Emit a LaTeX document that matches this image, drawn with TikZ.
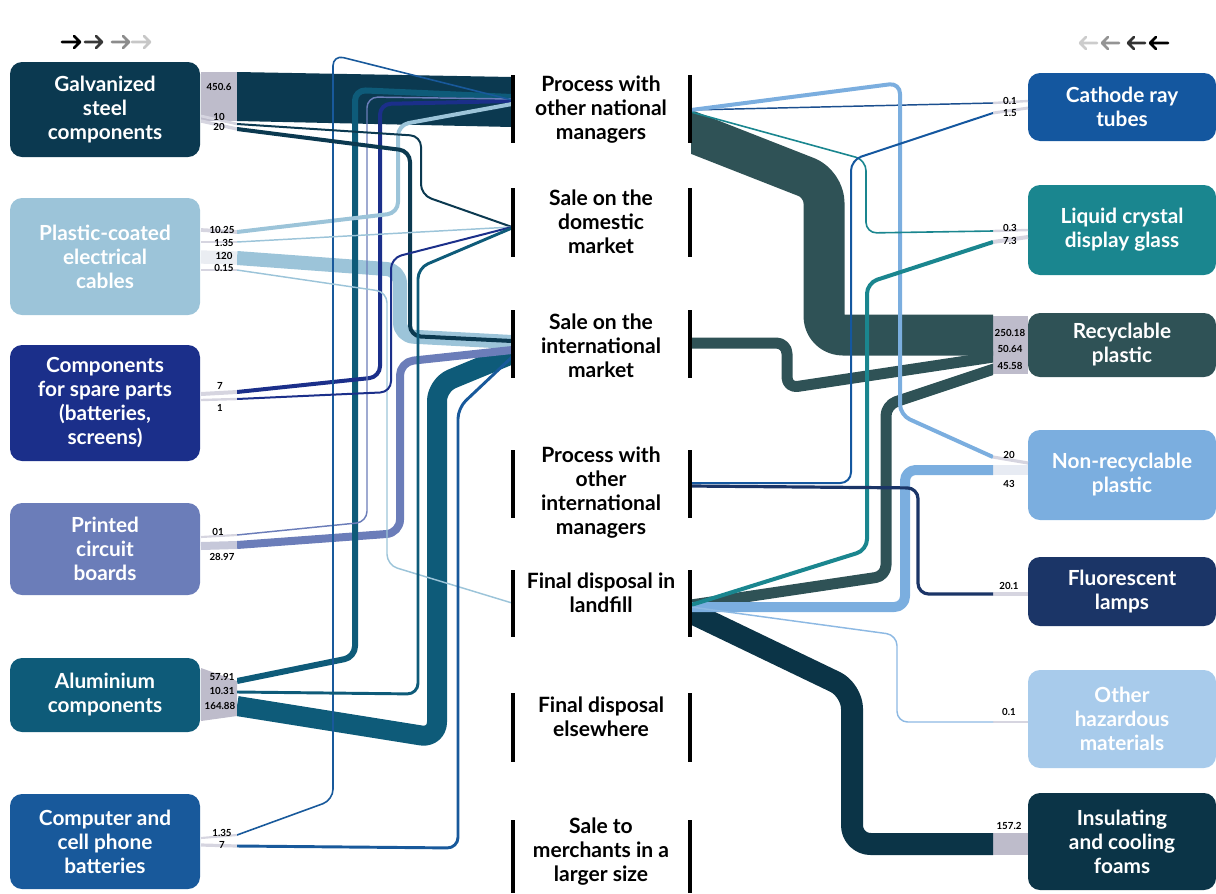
\documentclass[tikz,border=0pt]{standalone}
\usepackage{fontspec}
\setmainfont{Lato}
\usetikzlibrary{calc}

\definecolor{cGal}{HTML}{0B3950}
\definecolor{cCab}{HTML}{9CC4D9}
\definecolor{cSpa}{HTML}{1B2F8A}
\definecolor{cPcb}{HTML}{6B7DB9}
\definecolor{cAlu}{HTML}{0E5B79}
\definecolor{cBat}{HTML}{18599B}
\definecolor{cCrt}{HTML}{14579F}
\definecolor{cLcd}{HTML}{1A868F}
\definecolor{cRec}{HTML}{2F5256}
\definecolor{cNre}{HTML}{7BAEDF}
\definecolor{cFlu}{HTML}{1B3567}
\definecolor{cHaz}{HTML}{A8CBEB}
\definecolor{cHazLine}{HTML}{8DB9E3}
\definecolor{cIns}{HTML}{0B3447}
\definecolor{cCrtLine}{HTML}{1B4F8F}
\definecolor{gband}{HTML}{BEBCCB}
\definecolor{gthin}{HTML}{D6D5E0}

\begin{document}
\begin{tikzpicture}[x=0.75pt,y=-0.75pt,
  box/.style={rounded corners=9pt, text=white, font=\bfseries\fontsize{15.6}{18}\selectfont,
    align=center, minimum width=142.5pt, inner sep=0pt},
  rbox/.style={box, minimum width=141pt},
  mid/.style={font=\bfseries\fontsize{15.8}{18}\selectfont, align=center, inner sep=0pt, text=black},
  num/.style={font=\bfseries\fontsize{7.3}{8}\selectfont, inner sep=0pt, text=black},
  bar/.style={line width=2.3pt, black},
  flow/.style={rounded corners=8pt, line cap=butt, line join=round},
  thinband/.style={gthin, line cap=butt},
  dirarrow/.style={line width=1.9pt, line cap=round, line join=round}
]
\useasboundingbox (0,0) rectangle (1216,893);

% ---------- reading-direction arrows ----------
\foreach \xa/\xb/\shade in {62/80/100, 85/102/78, 112/129/45, 132/150/22}{
  \draw[dirarrow, black!\shade] (\xa,42) -- (\xb,42) (\xb-6,36) -- (\xb,42) -- (\xb-6,48);
}
\foreach \xa/\xb/\shade in {1080/1097/20, 1102/1119/42, 1128/1145/80, 1150/1168/100}{
  \draw[dirarrow, black!\shade] (\xb,43) -- (\xa,43) (\xa+6,37) -- (\xa,43) -- (\xa+6,49);
}

% ---------- source boxes ----------
\node[box, fill=cGal, minimum height=71.25pt] (gal) at (105,109.5) {Galvanized\\steel\\components};
\node[box, fill=cCab, minimum height=87.75pt] (cab) at (105,256.5) {Plastic-coated\\electrical\\cables};
\node[box, fill=cSpa, minimum height=87pt]    (spa) at (105,403) {Components\\for spare parts\\(batteries,\\screens)};
\node[box, fill=cPcb, minimum height=69pt]    (pcb) at (105,549) {Printed\\circuit\\boards};
\node[box, fill=cAlu, minimum height=55.5pt]  (alu) at (105,695) {Aluminium\\components};
\node[box, fill=cBat, minimum height=71.25pt] (bat) at (105,841.5) {Computer and\\cell phone\\batteries};

% ---------- target boxes ----------
\node[rbox, fill=cCrt, minimum height=51pt]    (crt) at (1122,107) {Cathode ray\\tubes};
\node[rbox, fill=cLcd, minimum height=67.5pt]  (lcd) at (1122,230) {Liquid crystal\\display glass};
\node[rbox, fill=cRec, minimum height=48pt]    (rec) at (1122,345) {Recyclable\\plastic};
\node[rbox, fill=cNre, minimum height=67.5pt]  (nre) at (1122,475) {Non-recyclable\\plastic};
\node[rbox, fill=cFlu, minimum height=51.75pt] (flu) at (1122,591.5) {Fluorescent\\lamps};
\node[rbox, fill=cHaz, minimum height=73.5pt]  (haz) at (1122,719) {Other\\hazardous\\materials};
\node[rbox, fill=cIns, minimum height=72.75pt] (ins) at (1122,841.5) {Insulating\\and cooling\\foams};

% ---------- intermediate destinations ----------
\node[mid] (pn) at (601,110) {Process with\\other national\\managers};
\node[mid] (sd) at (601,222) {Sale on the\\domestic\\market};
\node[mid] (si) at (601,346) {Sale on the\\international\\market};
\node[mid] (pi) at (601,493) {Process with\\other\\international\\managers};
\node[mid] (lf) at (601,593) {Final disposal in\\landfill};
\node[mid] (fe) at (601,717) {Final disposal\\elsewhere};
\node[mid] (sm) at (601,852) {Sale to\\merchants in a\\larger size};

% ---------- ports ----------
% outgoing ends on the left
\coordinate (gal-t) at (237,72);  \coordinate (gal-u) at (237,121);
\coordinate (gal-b) at (237,124); \coordinate (gal-c) at (237,129);
\coordinate (cab-a) at (237,232); \coordinate (cab-b) at (237,242);
\coordinate (cab-c) at (237,258); \coordinate (cab-d) at (237,270);
\coordinate (spa-a) at (237,392); \coordinate (spa-b) at (237,399);
\coordinate (pcb-a) at (237,535); \coordinate (pcb-b) at (237,545);
\coordinate (alu-a) at (237,681); \coordinate (alu-b) at (237,692); \coordinate (alu-c) at (237,706);
\coordinate (bat-a) at (237,835); \coordinate (bat-b) at (237,846);
% incoming ends of the intermediate destinations
\coordinate (pn-t) at (512,77);   \coordinate (pn-u) at (512,127);
\coordinate (pn-i) at (512,100);
\coordinate (sd-i) at (512,227);
\coordinate (si-i) at (512,345);
\coordinate (lf-i) at (512,603);
% outgoing ends of the intermediate destinations
\coordinate (pn-o) at (691,110);
\coordinate (pn-w) at (671,124);
\coordinate (si-o) at (691,343);
\coordinate (pi-o) at (691,485);
\coordinate (lf-o) at (691,605);
\coordinate (lf-w) at (671,603);
% incoming ends on the right
\coordinate (crt-a) at (993,103); \coordinate (crt-b) at (993,113);
\coordinate (lcd-a) at (993,231); \coordinate (lcd-b) at (993,242);
\coordinate (rec-a) at (993,335); \coordinate (rec-b) at (1000,356); \coordinate (rec-c) at (1000,367);
\coordinate (nre-a) at (993,457); \coordinate (nre-b) at (993,470);
\coordinate (flu-a) at (993,594);
\coordinate (haz-a) at (993,722);
\coordinate (ins-a) at (993,844);

% ---------- grey value bands ----------
\fill[gband] (201,72) rectangle (gal-u);
\draw[thinband, line width=2pt] (201,116) -- (gal-b);
\draw[thinband, line width=2.5pt] (201,121) -- (gal-c);
\draw[thinband, line width=2.8pt] (201,230) -- (cab-a);
\draw[thinband, line width=1.6pt] (201,242) -- (cab-b);
\draw[thinband, line width=10pt, gthin!80!cCab!40] (201,257) -- (cab-c);
\draw[thinband, line width=1.6pt] (201,270) -- (cab-d);
\draw[thinband, line width=3pt] (201,394) -- (spa-a);
\draw[thinband, line width=1.8pt] (201,400) -- (spa-b);
\draw[thinband, line width=1.6pt] (201,537) -- (pcb-a);
\draw[thinband, line width=6pt, gthin!85!cPcb] (201,546) -- (pcb-b);
\fill[gband] (201,668) -- (alu-a) -- (237,716) -- (201,721) -- cycle;
\draw[thinband, line width=1.6pt] (201,838) -- (bat-a);
\draw[thinband, line width=2.4pt] (201,845) -- (bat-b);

\draw[thinband, line width=1.8pt] (crt-a) -- (1028,101);
\draw[thinband, line width=2.2pt] (crt-b) -- (1028,108);
\draw[thinband, line width=1.8pt] (lcd-a) -- (1028,230);
\draw[thinband, line width=3pt]   (lcd-b) -- (1028,237);
\fill[gband] (993,316) rectangle (1028,374);
\draw[thinband, line width=2.4pt] (nre-a) -- (1028,463);
\draw[thinband, line width=7.5pt, gthin!80!cNre!40] (nre-b) -- (1028,470);
\draw[thinband, line width=2.4pt] (flu-a) -- (1028,594);
\draw[thinband, line width=1.4pt] (haz-a) -- (1028,722);
\fill[gband] (993,833) rectangle (1028,855);

% ---------- flows into the intermediate destinations ----------
\begin{scope}
\clip (237,0) rectangle (512,893);
\fill[cGal] (gal-t) -- (pn-t) -- (pn-u) -- (gal-u) -- cycle;
\draw[flow, rounded corners=12pt, cAlu, line width=15pt] (alu-c) -- (437,738) -- (437,385) -- ($(si-i)+(0,9)$);
\draw[flow, rounded corners=10pt, cCab, line width=10.5pt] (cab-c) -- (400,270) -- (400,336) -- ($(si-i)+(0,-3)$);
\draw[flow, rounded corners=10pt, cPcb, line width=6pt] (pcb-b) -- (400,533) -- (400,362) -- ($(si-i)+(0,5)$);
\draw[flow, cAlu, line width=4.5pt] (alu-a) -- (355,657) -- (355,90) -- ($(pn-i)+(0,-3)$);
\draw[flow, cSpa, line width=3pt] (spa-a) -- (380,377) -- (380,104) -- ($(pn-i)+(0,1)$);
\draw[flow, cPcb, line width=1.1pt] (pcb-a) -- (367,522) -- (367,97) -- ($(pn-i)+(0,-1)$);
\draw[flow, cCab, line width=3pt] (cab-a) -- (398,213) -- (398,125) -- ($(pn-i)+(0,4)$);
\draw[flow, cBat, line width=1.2pt] (bat-a) -- (333,800) -- (333,55) -- (pn-i);
\draw[flow, cGal, line width=1.5pt] (gal-b) -- (421,136) -- (421,195) -- (sd-i);
\draw[flow, cGal, line width=3pt] (gal-c) -- (410,151) -- (410,336) -- ($(si-i)+(0,-4)$);
\draw[flow, cCab, line width=1.1pt] (cab-b) -- (sd-i);
\draw[flow, cCab, line width=1.1pt] (cab-d) -- (387,292) -- (387,565) -- (lf-i);
\draw[flow, cSpa, line width=1.5pt] (spa-b) -- (391,392) -- (391,258) -- (sd-i);
\draw[flow, cAlu, line width=2.2pt] (alu-b) -- (418,694) -- (418,268) -- ($(sd-i)+(0,1)$);
\draw[flow, cBat, line width=2.2pt] (bat-b) -- (458,848) -- (458,408) -- ($(si-i)+(0,12)$);
\end{scope}

% ---------- flows into the material boxes ----------
\begin{scope}
\clip (691,0) rectangle (993,893);
\draw[flow, rounded corners=14pt, cRec, line width=30.75pt] (pn-w) -- (824,184) -- (824,335) -- (rec-a);
\draw[flow, rounded corners=14pt, cIns, line width=16.5pt] (lf-w) -- (852,690) -- (852,844) -- (ins-a);
\draw[flow, cRec, line width=8.25pt] (si-o) -- (787,343) -- (787,388) -- (rec-b);
\draw[flow, cRec, line width=8.25pt] (lf-o) -- (886,576) -- (886,405) -- (rec-c);
\draw[flow, cNre, line width=7.5pt] ($(lf-o)+(0,2)$) -- (905,607) -- (905,470) -- (nre-b);
\draw[flow, cCrtLine, line width=1.1pt] (pn-o) -- (crt-a);
\draw[flow, cNre, line width=3pt] (pn-o) -- (900,83) -- (900,415) -- (nre-a);
\draw[flow, cLcd, line width=1.2pt] ($(pn-o)+(0,2)$) -- (866,160) -- (866,233) -- (lcd-a);
\draw[flow, cLcd, line width=3pt] (lf-o) -- (867,550) -- (867,283) -- (lcd-b);
\draw[flow, cHazLine, line width=1.1pt] ($(lf-o)+(0,2)$) -- (897,635) -- (897,722) -- (haz-a);
\draw[flow, cFlu, line width=2.4pt] ($(pi-o)+(0,1)$) -- (918,488) -- (918,594) -- (flu-a);
\draw[flow, cCrt, line width=1.5pt] ($(pi-o)+(0,-2)$) -- (851,483) -- (851,160) -- (crt-b);
\end{scope}

% ---------- bars of the intermediate destinations ----------
\foreach \ta/\tb in {75/143, 188/257, 310/378, 450/518, 570/637, 693/762, 820/893}{
  \draw[bar] (513,\ta) -- (513,\tb);
  \draw[bar] (690,\ta) -- (690,\tb);
}

% ---------- values ----------
\node[num] (v1)  at (219,87)  {450.6};
\node[num] (v2)  at (219,117) {10};
\node[num] (v3)  at (219,127) {20};
\node[num] (v4)  at (222,230) {10.25};
\node[num] (v5)  at (224,243) {1.35};
\node[num] (v6)  at (224,256) {120};
\node[num] (v7)  at (224,268) {0.15};
\node[num] (v8)  at (220,386) {7};
\node[num] (v9)  at (220,408) {1};
\node[num] (v10) at (218,532) {01};
\node[num] (v11) at (222,557) {28.97};
\node[num] (v12) at (222,677) {57.91};
\node[num] (v13) at (222,691) {10.31};
\node[num] (v14) at (220,706) {164.88};
\node[num] (v15) at (222,833) {1.35};
\node[num] (v16) at (222,845) {7};

\node[num] (w1)  at (1010,101) {0.1};
\node[num] (w2)  at (1010,113) {1.5};
\node[num] (w3)  at (1010,228) {0.3};
\node[num] (w4)  at (1010,241) {7.3};
\node[num] (w5)  at (1010,333) {250.18};
\node[num] (w6)  at (1010,349) {50.64};
\node[num] (w7)  at (1010,366) {45.58};
\node[num] (w8)  at (1009,455) {20};
\node[num] (w9)  at (1009,484) {43};
\node[num] (w10) at (1009,586) {20.1};
\node[num] (w11) at (1009,712) {0.1};
\node[num] (w12) at (1009,826) {157.2};
\end{tikzpicture}
\end{document}
